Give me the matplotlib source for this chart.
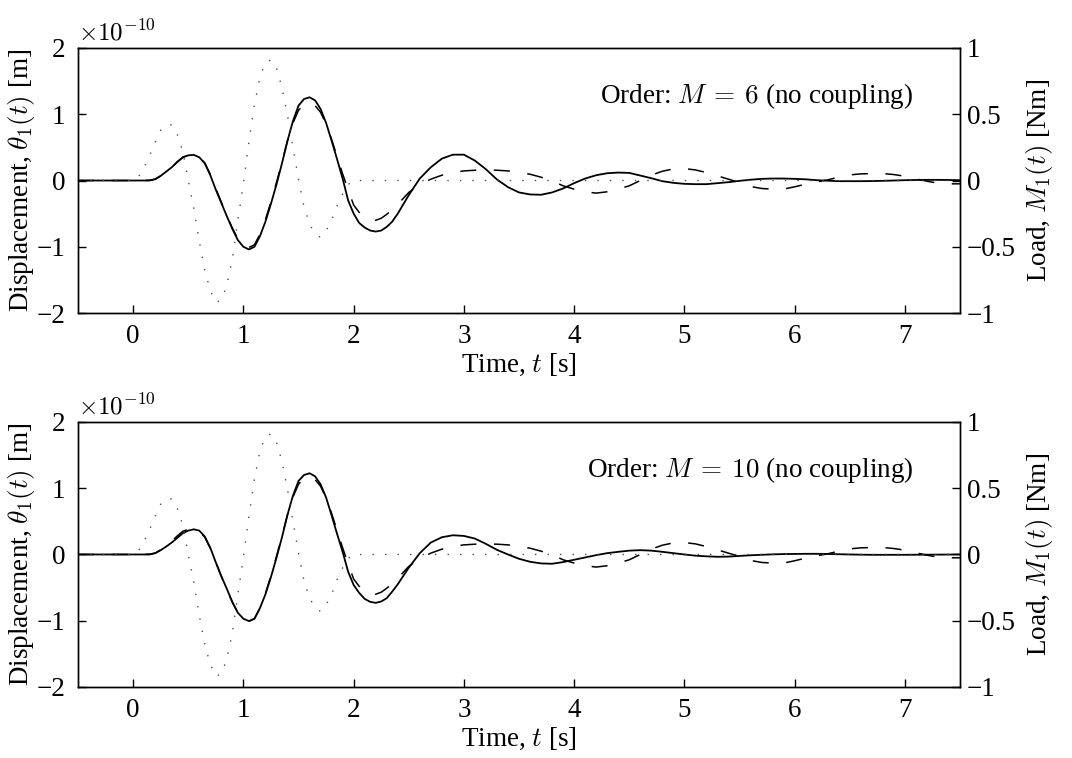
import numpy as np
import matplotlib
matplotlib.use('Agg')
import matplotlib.pyplot as plt

plt.rcParams['font.family'] = ['Liberation Serif', 'DejaVu Serif']
plt.rcParams['mathtext.fontset'] = 'cm'
plt.rcParams['axes.linewidth'] = 1.0

# time grid for the displacement curves [s]
t = [-0.5, 0.0, 0.1, 0.15, 0.2, 0.25, 0.3, 0.35, 0.4, 0.45, 0.5, 0.55, 0.6, 0.65,
     0.7, 0.75, 0.8, 0.85, 0.9, 0.95, 1.0, 1.05, 1.1, 1.15, 1.2, 1.25, 1.3, 1.35,
     1.4, 1.45, 1.5, 1.55, 1.6, 1.65, 1.7, 1.75, 1.8, 1.85, 1.9, 1.95, 2.0, 2.05,
     2.1, 2.15, 2.2, 2.25, 2.3, 2.35, 2.4, 2.5, 2.6, 2.7, 2.8, 2.9, 3.0, 3.1, 3.2,
     3.3, 3.4, 3.5, 3.6, 3.7, 3.8, 3.9, 4.0, 4.1, 4.2, 4.3, 4.4, 4.5, 4.6, 4.7,
     4.8, 4.9, 5.0, 5.1, 5.2, 5.3, 5.4, 5.5, 5.6, 5.7, 5.8, 5.9, 6.0, 6.1, 6.2,
     6.3, 6.4, 6.5, 6.6, 6.7, 6.8, 6.9, 7.0, 7.1, 7.2, 7.3, 7.4, 7.5]

# displacement (x1e-10 m), model order M = 6
disp_m6 = [0, 0, 0, 0.0, 0.02, 0.07, 0.135, 0.2, 0.28, 0.35, 0.38, 0.387, 0.35, 0.26,
           0.08, -0.14, -0.34, -0.54, -0.73, -0.9, -1.0, -1.04, -1.0, -0.84, -0.62, -0.35, -0.06, 0.26,
           0.6, 0.9, 1.13, 1.23, 1.256, 1.21, 1.08, 0.87, 0.6, 0.32, 0.03, -0.3, -0.5, -0.64,
           -0.71, -0.755, -0.77, -0.755, -0.7, -0.62, -0.5, -0.22, 0.03, 0.2, 0.33, 0.39, 0.39, 0.3, 0.17,
           0.015, -0.1, -0.18, -0.21, -0.215, -0.18, -0.12, -0.04, 0.03, 0.08, 0.11, 0.12, 0.115, 0.075, 0.035,
           -0.01, -0.035, -0.05, -0.055, -0.055, -0.04, -0.025, -0.005, 0.012, 0.025, 0.03, 0.03, 0.025, 0.018, 0.005,
           -0.003, -0.01, -0.01, -0.01, -0.008, -0.005, 0.0, 0.005, 0.008, 0.01, 0.01, 0.008, 0.005]

# displacement (x1e-10 m), model order M = 10
disp_m10 = [0, 0, 0, 0.0, 0.02, 0.065, 0.12, 0.18, 0.25, 0.32, 0.36, 0.38, 0.36, 0.27,
            0.1, -0.12, -0.33, -0.52, -0.72, -0.88, -0.97, -1.005, -0.97, -0.81, -0.6, -0.34, -0.05, 0.26,
            0.6, 0.89, 1.11, 1.2, 1.226, 1.18, 1.06, 0.86, 0.59, 0.31, 0.04, -0.26, -0.46, -0.58,
            -0.67, -0.715, -0.73, -0.71, -0.66, -0.56, -0.45, -0.2, 0.02, 0.18, 0.26, 0.29, 0.28, 0.24, 0.16,
            0.07, 0.0, -0.065, -0.11, -0.135, -0.14, -0.115, -0.08, -0.045, -0.01, 0.02, 0.04, 0.058, 0.065, 0.058,
            0.04, 0.02, 0.0, -0.018, -0.028, -0.035, -0.032, -0.022, -0.012, -0.005, 0.002, 0.006, 0.008, 0.01, 0.01,
            0.008, 0.004, 0.0, -0.003, -0.005, -0.005, -0.005, -0.005, -0.004, -0.003, -0.002, -0.001, 0.0]

# reference displacement (dashed), same in both panels
disp_ref = [0, 0, 0, 0.005, 0.02, 0.07, 0.135, 0.2, 0.28, 0.35, 0.38, 0.385, 0.35, 0.26,
            0.09, -0.12, -0.33, -0.53, -0.72, -0.88, -0.98, -1.01, -0.97, -0.81, -0.59, -0.32, -0.03, 0.28,
            0.6, 0.87, 1.06, 1.15, 1.17, 1.13, 1.03, 0.85, 0.62, 0.36, 0.1, -0.14, -0.37, -0.48,
            -0.55, -0.6, -0.6, -0.57, -0.51, -0.44, -0.36, -0.18, -0.06, 0.02, 0.08, 0.12, 0.145, 0.155, 0.16,
            0.155, 0.145, 0.125, 0.095, 0.05, -0.005, -0.08, -0.13, -0.17, -0.19, -0.17, -0.13, -0.08, 0.0, 0.08,
            0.14, 0.175, 0.18, 0.16, 0.12, 0.07, 0.02, -0.03, -0.09, -0.12, -0.13, -0.13, -0.095, -0.055, -0.02,
            0.01, 0.05, 0.085, 0.1, 0.105, 0.105, 0.09, 0.065, 0.025, -0.01, -0.04, -0.05, -0.05]

# applied load M1(t) [Nm]
load_t = [-0.5, 0.0, 0.05, 0.1, 0.15, 0.2, 0.25, 0.3, 0.35, 0.4, 0.45, 0.5, 0.55, 0.6,
          0.65, 0.7, 0.75, 0.8, 0.85, 0.9, 0.95, 1.0, 1.05, 1.1, 1.15, 1.2, 1.25, 1.3,
          1.35, 1.4, 1.45, 1.5, 1.55, 1.6, 1.65, 1.7, 1.75, 1.8, 1.85, 1.9, 1.95, 2.0, 7.5]
load = [0, 0, 0.03, 0.1, 0.19, 0.29, 0.38, 0.42, 0.42, 0.35, 0.22, 0.0, -0.21, -0.46,
        -0.68, -0.83, -0.92, -0.9, -0.79, -0.59, -0.3, -0.02, 0.29, 0.57, 0.78, 0.89, 0.91, 0.85,
        0.7, 0.49, 0.25, 0.01, -0.2, -0.33, -0.4, -0.43, -0.38, -0.3, -0.19, -0.1, -0.03, 0.0, 0.0]

panels = [(disp_m6, r'Order: $M\:=\:6$ (no coupling)'),
          (disp_m10, r'Order: $M\:=\:10$ (no coupling)')]

fs = 19.5
fig = plt.figure(figsize=(10.72, 7.58), dpi=100)
boxes = [[0.0728, 0.587, 0.8227, 0.3497], [0.0728, 0.0937, 0.8227, 0.3496]]

for (disp, label), box in zip(panels, boxes):
    ax = fig.add_axes(box)
    ax.plot(t, disp_ref, color='black', lw=1.1, dashes=(10.5, 11.5))
    ax.plot(t, disp, color='black', lw=1.3)
    ax.set_xlim(-0.5, 7.5)
    ax.set_ylim(-2, 2)
    ax.set_xticks(range(0, 8))
    ax.set_yticks([-2, -1, 0, 1, 2])
    ax.tick_params(axis='y', pad=9)
    ax.tick_params(axis='x', pad=8)
    ax.tick_params(direction='in', length=6, width=1.0, labelsize=fs,
                   top=False, right=False)
    ax.set_xlabel('Time, $t$ [s]', fontsize=fs, labelpad=2)
    ax.set_ylabel(r'Displacement, $\theta_1(t)$ [m]', fontsize=fs, labelpad=0)
    ax.text(0.0, 1.01, r'$\times10^{-10}$', transform=ax.transAxes,
            fontsize=18, ha='left', va='bottom')
    ax.text(0.947, 0.82, label, transform=ax.transAxes, fontsize=fs,
            ha='right', va='center')

    ax2 = ax.twinx()
    ax2.plot(load_t, load, color='0.3', lw=1.0, dashes=(1, 8))
    ax2.set_ylim(-1, 1)
    ax2.set_yticks([-1, -0.5, 0, 0.5, 1])
    ax2.set_yticklabels(['\u22121', '\u22120.5', '0', '0.5', '1'])
    ax2.tick_params(direction='in', length=6, width=1.0, labelsize=fs, pad=5)
    ax2.set_ylabel('Load, $M_1(t)$ [Nm]', fontsize=fs, labelpad=6)

fig.savefig('out.png', dpi=100)
